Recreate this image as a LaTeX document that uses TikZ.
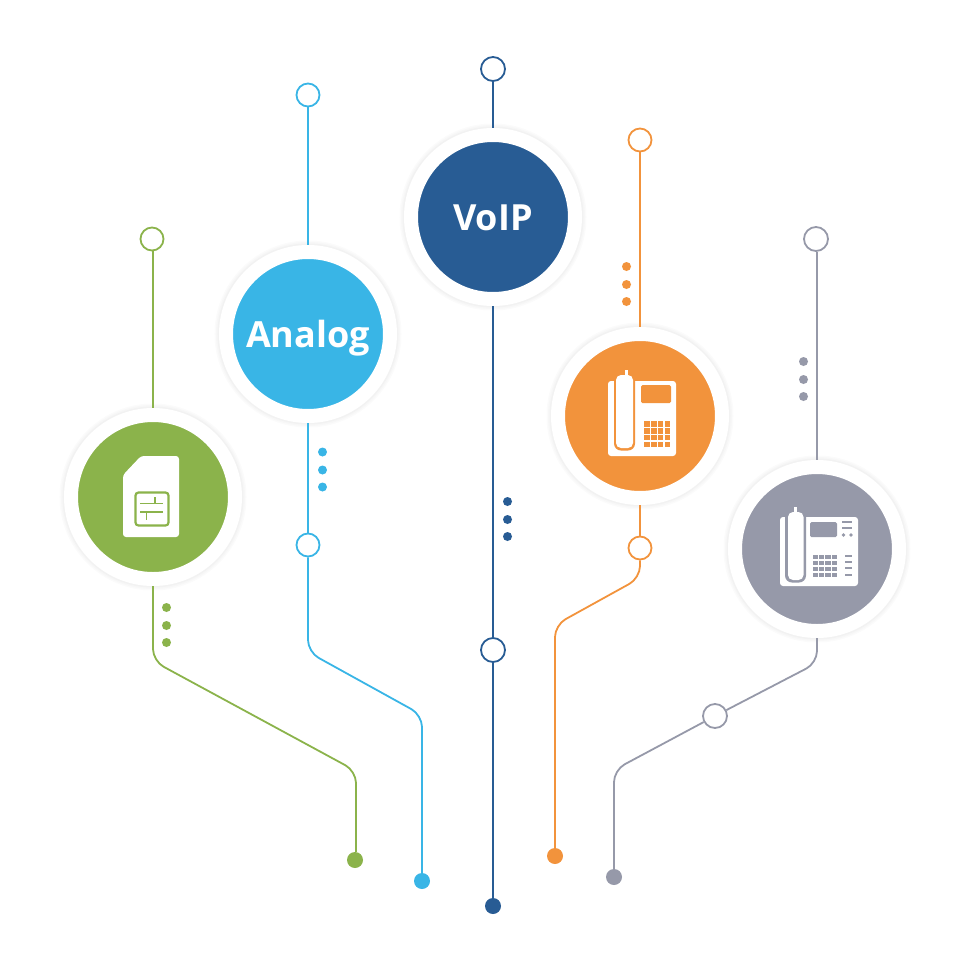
\documentclass[tikz,border=0pt]{standalone}
\usepackage{fontspec}
\setmainfont{Open Sans}
\usetikzlibrary{positioning}
\definecolor{simgreen}{HTML}{8BB34B}
\definecolor{analogblue}{HTML}{39B5E6}
\definecolor{voipblue}{HTML}{285C94}
\definecolor{deskorange}{HTML}{F2933C}
\definecolor{deskgray}{HTML}{9699A9}
\tikzset{hub/.style={circle,fill=#1,draw=white,line width=14pt,minimum size=164pt,inner sep=0pt,text=white,
    text height=26pt,text depth=0pt,font=\fontsize{36}{40}\selectfont\bfseries,
    preaction={draw=black!1.5,line width=23pt},preaction={draw=black!3,line width=20pt},preaction={draw=black!5,line width=17pt}}}
\tikzset{ring/.style={circle,fill=white,draw=#1,line width=1.8pt,minimum size=23pt,inner sep=0pt}}
\tikzset{spot/.style={circle,fill=#1,minimum size=16pt,inner sep=0pt}}
\tikzset{bead/.style={circle,fill=#1,minimum size=9pt,inner sep=0pt}}
\tikzset{wire/.style={draw=#1,line width=1.8pt,rounded corners=12pt}}
\begin{document}
\begin{tikzpicture}[x=1pt,y=-1pt,on grid]
        \useasboundingbox (0,0) rectangle (970,970);
        \node(simhub)[hub=simgreen] at (153,497){};
        \node(simtop)[ring=simgreen,above=258pt of simhub,xshift=-1pt]{};
        \coordinate[below=164pt of simhub](simA);
        \coordinate[below right=110pt and 203pt of simA](simB);
        \node(simend)[spot=simgreen,below=89pt of simB,anchor=center,xshift=-1pt]{};
        \node(anahub)[hub=analogblue] at (308,334){Analog};
        \node(anatop)[ring=analogblue,above=239pt of anahub]{};
        \node(anamid)[ring=analogblue,below=211pt of anahub]{};
        \coordinate[below=107pt of anamid](anaA);
        \coordinate[below right=63pt and 114pt of anaA](anaB);
        \node(anaend)[spot=analogblue,below=166pt of anaB,anchor=center]{};
        \node(voiphub)[hub=voipblue] at (493,217){VoIP};
        \node(voiptop)[ring=voipblue,above=148pt of voiphub,minimum size=24pt]{};
        \node(voipmid)[ring=voipblue,below=433pt of voiphub,minimum size=24pt]{};
        \node(voipend)[spot=voipblue,below=256pt of voipmid]{};
        \node(deskhub)[hub=deskorange] at (640,416){};
        \node(desktop)[ring=deskorange,above=276pt of deskhub]{};
        \node(deskmid)[ring=deskorange,below=132pt of deskhub]{};
        \coordinate[below=30pt of deskmid](deskA);
        \coordinate[below left=47pt and 85pt of deskA](deskB);
        \node(deskend)[spot=deskorange,below=231pt of deskB,anchor=center]{};
        \node(ipphub)[hub=deskgray] at (817,549){};
        \node(ipptop)[ring=deskgray,above=310pt of ipphub,minimum size=24pt,xshift=-1pt]{};
        \coordinate[below=114pt of ipphub](ippA);
        \node(ippmid)[ring=deskgray,below left=53pt and 102pt of ippA,anchor=center,minimum size=24pt]{};
        \coordinate[below left=54pt and 101pt of ippmid](ippB);
        \node(ippend)[spot=deskgray,below=107pt of ippB,anchor=center]{};
        \draw[wire=simgreen] (simtop.south -| simhub) -- (simhub);
        \draw[wire=simgreen] (simhub) -- (simA) -- (simB) -- ([xshift=1pt]simend.north);
        \draw[wire=analogblue] (anatop) -- (anahub);
        \draw[wire=analogblue] (anahub) -- (anamid);
        \draw[wire=analogblue] (anamid) -- (anaA) -- (anaB) -- (anaend);
        \draw[wire=voipblue] (voiptop) -- (voiphub);
        \draw[wire=voipblue] (voiphub) -- (voipmid);
        \draw[wire=voipblue] (voipmid) -- (voipend);
        \draw[wire=deskorange] (desktop) -- (deskhub);
        \draw[wire=deskorange] (deskhub) -- (deskmid);
        \draw[wire=deskorange] (deskmid) -- (deskA) -- (deskB) -- (deskend);
        \draw[wire=deskgray] (ipptop.south -| ipphub) -- (ipphub);
        \draw[wire=deskgray] (ipphub) -- (ippA) -- (ippmid);
        \draw[wire=deskgray] (ippmid) -- (ippB) -- (ippend);
        \foreach \x/\y/\c/\n in {166.5/607.5/simgreen/sim,322.5/452/analogblue/ana,507.5/501.5/voipblue/voip,626.5/266.5/deskorange/desk,803.5/361.5/deskgray/ipp}{
          \node(\n dotA)[bead=\c] at (\x,\y){};
          \node(\n dotB)[bead=\c,below=18pt of \n dotA]{};
          \node(\n dotC)[bead=\c,below=17pt of \n dotB]{};
        }
        \fill[white,rounded corners=3pt] (123,475) -- (141,456) -- (179,456) -- (179,537) -- (123,537) -- cycle;
        \draw[simgreen,line width=2.2pt,rounded corners=3pt] (135.5,492.5) rectangle (168.5,525.5);
        \draw[simgreen,line width=1.8pt] (140,503.5) -- (163,503.5) (155,497) -- (155,503.5) (140,512) -- (163,512) (146.5,512) -- (146.5,520);
        \fill[white,rounded corners=3pt] (608,381) rectangle (676,456);
        \fill[deskorange,rounded corners=7pt] (614,372) rectangle (635,450.5);
        \fill[white] (624.5,370) rectangle (628,378);
        \fill[white,rounded corners=5pt] (616,375) rectangle (633,448);
        \fill[deskorange,rounded corners=1.5pt] (641,385) rectangle (671,403);
        \foreach \i in {0,...,3}
          \foreach \j in {0,...,3}
            \fill[deskorange] (644+\i*6.9,421+\j*6.9) rectangle ++(5.6,5.6);
        \fill[white,rounded corners=3pt] (780,517) rectangle (858,586);
        \fill[deskgray,rounded corners=7pt] (785,510) rectangle (806,582.5);
        \fill[white] (794,507) rectangle (797,515);
        \fill[white,rounded corners=5pt] (788,512) rectangle (803.5,580);
        \fill[deskgray,rounded corners=1.5pt] (810,522) rectangle (837,537);
        \foreach \i in {0,...,3}
          \foreach \j in {0,...,3}
            \fill[deskgray] (813+\i*6.2,555+\j*5.9) rectangle ++(5.2,4);
        \foreach \y/\a in {521/842,527/842,555/845,561/845,567/845,574/845}
          \fill[deskgray] (\a,\y) rectangle (852,\y+2);
        \fill[deskgray] (843.5,535) circle (1.8pt) (851,535) circle (1.8pt);
      \end{tikzpicture}
\end{document}
